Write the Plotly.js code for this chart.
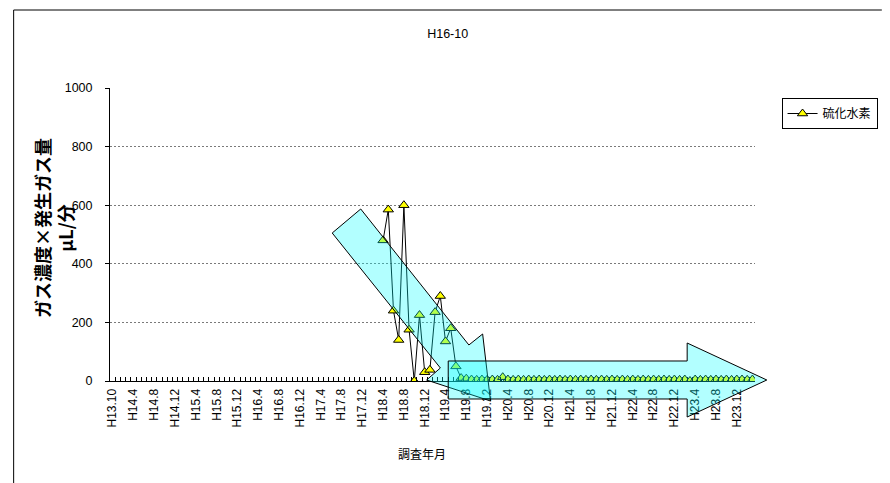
<!DOCTYPE html>
<html><head><meta charset="utf-8">
<script src="https://cdn.plot.ly/plotly-3.0.1.min.js"></script>
<style>html,body{margin:0;padding:0;background:#fff;} #chart{width:890px;height:483px;}</style>
</head><body><div id="chart"></div>
<script>
// ---- data ----
const chartTitle = 'H16-10';
const seriesName = '硫化水素';
const xTitle = '調査年月';
const yTitle = 'ガス濃度×発生ガス量<br>μL/分';
const yTicks = [0, 200, 400, 600, 800, 1000];

const categories = [
  'H13.10','H14.1','H14.2','H14.3',
  'H14.4','H14.5','H14.6','H14.7','H14.8','H14.9','H14.10','H14.11','H14.12',
  'H15.1','H15.2','H15.3','H15.4','H15.5','H15.6','H15.7','H15.8','H15.9','H15.10','H15.11','H15.12',
  'H16.1','H16.2','H16.3','H16.4','H16.5','H16.6','H16.7','H16.8','H16.9','H16.10','H16.11','H16.12',
  'H17.1','H17.2','H17.3','H17.4','H17.5','H17.6','H17.7','H17.8','H17.9','H17.10','H17.11','H17.12',
  'H18.1','H18.2','H18.3','H18.4','H18.5','H18.6','H18.7','H18.8','H18.9','H18.10','H18.11','H18.12',
  'H19.1','H19.2','H19.3','H19.4','H19.5','H19.6','H19.7','H19.8','H19.9','H19.10','H19.11','H19.12',
  'H20.1','H20.2','H20.3','H20.4','H20.5','H20.6','H20.7','H20.8','H20.9','H20.10','H20.11','H20.12',
  'H21.1','H21.2','H21.3','H21.4','H21.5','H21.6','H21.7','H21.8','H21.9','H21.10','H21.11','H21.12',
  'H22.1','H22.2','H22.3','H22.4','H22.5','H22.6','H22.7','H22.8','H22.9','H22.10','H22.11','H22.12',
  'H23.1','H23.2','H23.3','H23.4','H23.5','H23.6','H23.7','H23.8','H23.9','H23.10','H23.11','H23.12',
  'H24.1','H24.2','H24.3'
];

const h2s = [
  null,null,null,null,
  null,null,null,null,null,null,null,null,null,
  null,null,null,null,null,null,null,null,null,null,null,null,
  null,null,null,null,null,null,null,null,null,null,null,null,
  null,null,null,null,null,null,null,null,null,null,null,null,
  null,null,null,480,585,240,140,600,175,0,225,30,
  38,235,290,135,180,50,10,8,5,4,5,4,
  5,4,13,5,4,5,4,5,4,5,4,5,
  4,5,4,5,4,5,4,5,4,5,4,5,
  4,5,4,5,4,5,4,5,4,5,4,5,
  4,5,0,5,4,5,4,5,4,5,4,5,
  5,4,5
];

// ---- geometry helpers (pixel -> paper) ----
const W = 890, H = 483;
const M = {l: 110, r: 124, t: 88, b: 102};
const PW = W - M.l - M.r, PH = H - M.t - M.b;
function px(x) { return (x - M.l) / PW; }
function py(y) { return (H - M.b - y) / PH; }
function pathOf(pts) {
  return 'M ' + pts.map(p => px(p[0]).toFixed(5) + ',' + py(p[1]).toFixed(5)).join(' L ') + ' Z';
}

const arrowDiag = [[336,233],[365,209],[475,345],[489,334],[497,401],[432,380],[446,368]];
const arrowHoriz = [[454,361],[697,361],[697,343],[778,380],[697,417],[697,399],[454,399]];

const tickText = categories.map((c, i) => (i % 4 === 0 ? c : ''));

const latin = 'Liberation Sans, Arial, sans-serif';
const cjk = 'Noto Sans CJK JP, sans-serif';

const trace = {
  type: 'scatter', mode: 'lines+markers',
  x: categories, y: h2s, name: seriesName,
  connectgaps: false,
  line: {color: '#000', width: 1},
  marker: {symbol: 'triangle-up', size: 9, color: '#FFFF00', line: {color: '#000', width: 1}}
};

const layout = {
  width: W, height: H,
  margin: M,
  paper_bgcolor: '#fff', plot_bgcolor: '#fff',
  showlegend: true,
  title: {text: chartTitle, x: 0.503, xref: 'container', xanchor: 'center',
          y: 1 - 34 / H, yref: 'container', yanchor: 'middle',
          font: {family: latin, size: 12.5, color: '#000'}},
  xaxis: {
    type: 'category', categoryorder: 'array', categoryarray: categories,
    range: [-0.5, categories.length - 0.5],
    tickmode: 'array', tickvals: categories, ticktext: tickText,
    tickson: 'boundaries', ticks: 'inside', ticklen: 4, tickcolor: '#000', tickwidth: 1,
    tickangle: -90, tickfont: {family: latin, size: 12, color: '#000'},
    ticklabelstandoff: 2,
    showline: true, linecolor: '#000', linewidth: 1,
    showgrid: false, zeroline: false, fixedrange: true
  },
  yaxis: {
    range: [0, 1000], tickmode: 'array', tickvals: yTicks,
    ticks: 'outside', ticklen: 4, tickcolor: '#000',
    tickfont: {family: latin, size: 12.5, color: '#000'},
    ticklabelstandoff: 10,
    showline: true, linecolor: '#000', linewidth: 1,
    showgrid: true, gridcolor: '#7a7a7a', gridwidth: 1, griddash: '2px,2px',
    zeroline: false, fixedrange: true
  },
  legend: {
    x: px(793), y: py(98), xanchor: 'left', yanchor: 'top',
    bordercolor: '#000', borderwidth: 1, bgcolor: '#fff',
    font: {family: cjk, size: 12, color: '#000'}, itemwidth: 30
  },
  annotations: [
    {text: yTitle, xref: 'paper', yref: 'paper', x: px(52), y: py(228),
     xanchor: 'center', yanchor: 'middle', textangle: -90, showarrow: false,
     font: {family: cjk, size: 18, color: '#000', weight: 'bold'}},
    {text: xTitle, xref: 'paper', yref: 'paper', x: px(427), y: py(453),
     xanchor: 'center', yanchor: 'middle', showarrow: false,
     font: {family: cjk, size: 12, color: '#000'}}
  ],
  shapes: [
    {type: 'path', xref: 'paper', yref: 'paper', layer: 'above',
     path: 'M ' + px(12) + ',' + py(H + 5) + ' L ' + px(12) + ',' + py(10) + ' L ' + px(W + 5) + ',' + py(10),
     line: {color: '#000', width: 1}},
    {type: 'path', xref: 'paper', yref: 'paper', layer: 'above', path: pathOf(arrowDiag),
     fillcolor: 'rgba(0,255,255,0.3)', line: {color: '#000', width: 1}},
    {type: 'path', xref: 'paper', yref: 'paper', layer: 'above', path: pathOf(arrowHoriz),
     fillcolor: 'rgba(0,255,255,0.3)', line: {color: '#000', width: 1}}
  ]
};

Plotly.newPlot('chart', [trace], layout, {staticPlot: true, displayModeBar: false});
</script>
</body></html>
